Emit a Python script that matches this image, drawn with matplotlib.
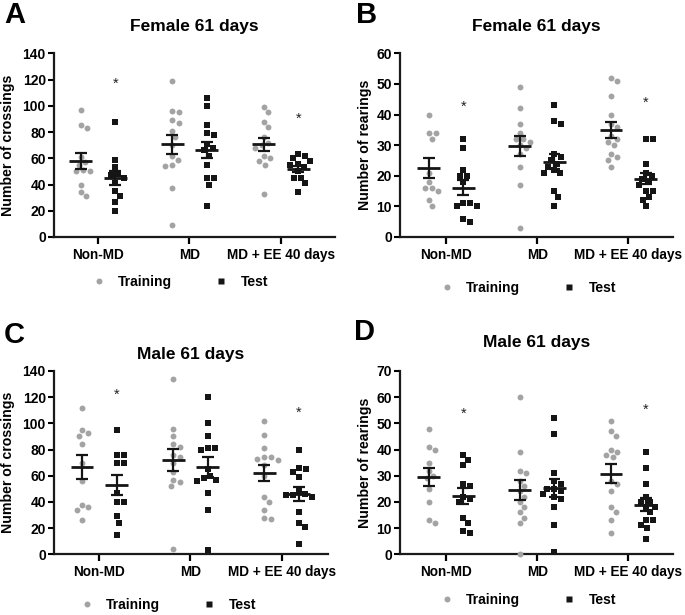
import matplotlib
matplotlib.use('Agg')
import matplotlib.pyplot as plt
from matplotlib.lines import Line2D
import numpy as np

plt.rcParams['font.family'] = ['Liberation Sans', 'DejaVu Sans']
plt.rcParams['font.weight'] = 'bold'
plt.rcParams['axes.labelweight'] = 'bold'

groups = ['Non-MD', 'MD', 'MD + EE 40 days']

# A: female crossings
a_train = [[97, 85, 83, 61, 57, 55, 51, 50, 50, 40, 34, 31],
           [119, 96, 95, 89, 87, 81, 76, 70, 62, 59, 55, 54, 37, 9],
           [99, 95, 88, 84, 76, 72, 70, 68, 62, 60, 58, 55, 33]]
a_test = [[88, 59, 53, 48, 47, 45, 41, 35, 31, 27, 20],
          [106, 100, 85, 79, 78, 71, 68, 66, 62, 55, 45, 45, 40, 24],
          [63, 62, 60, 58, 56, 55, 53, 50, 45, 45, 41, 34]]
a_stars = [117, None, 90]

# B: female rearings
b_train = [[40, 34, 34, 32, 21, 18, 16, 16, 15, 12, 10],
           [49, 42, 37, 34, 32, 32, 31, 30, 29, 27, 23, 17, 3],
           [52, 51, 46, 40, 37, 36, 33, 32, 31, 30, 27, 26, 25, 23]]
b_test = [[32, 29, 22, 20, 20, 18, 11, 11, 10, 10, 6, 5],
          [43, 38, 37, 27, 26, 25, 24, 23, 22, 21, 21, 15, 13, 10],
          [32, 32, 24, 21, 20, 19, 18, 17, 15, 15, 13, 12, 10]]
b_stars = [42.5, None, 44]

# C: male crossings
c_train = [[112, 95, 93, 90, 84, 70, 56, 38, 36, 34, 26],
           [134, 96, 90, 84, 82, 76, 74, 70, 63, 57, 55, 52, 4],
           [102, 91, 81, 74, 74, 73, 72, 68, 60, 44, 40, 34, 28, 27]]
c_test = [[95, 76, 76, 70, 70, 47, 40, 40, 29, 24, 15],
          [120, 100, 90, 81, 81, 80, 65, 60, 58, 57, 56, 47, 34, 3],
          [80, 66, 65, 63, 59, 48, 46, 45, 45, 44, 32, 24, 21, 8]]
c_stars = [122, None, 108]

# D: male rearings
d_train = [[48, 41, 40, 35, 32, 30, 29, 25, 20, 13, 12],
           [60, 39, 32, 31, 28, 26, 24, 22, 20, 18, 16, 14, 12, 0],
           [51, 47, 45, 40, 39, 38, 37, 28, 27, 24, 18, 16, 13, 8]]
d_test = [[38, 36, 34, 27, 26, 22, 21, 20, 14, 12, 9, 8],
          [52, 46, 31, 28, 27, 25, 25, 24, 23, 22, 21, 18, 11, 1],
          [39, 33, 27, 22, 20, 20, 18, 18, 16, 13, 13, 11, 10, 6]]
d_stars = [53.5, None, 55]

W, H = 685, 615
fig = plt.figure(figsize=(W / 100, H / 100), dpi=100)

panels = [
    # axes px box = (left, right, top, bottom)
    dict(letter='A', title='Female 61 days', ylabel='Number of crossings',
         train=a_train, test=a_test, stars=a_stars, ymax=140, ystep=20,
         box=(53.5, 335, 53.3, 237), xlim=(-0.486, 2.59), ty=27, leg=(180, 282),
         ylx=15, lp=(4, 15)),
    dict(letter='B', title='Female 61 days', ylabel='Number of rearings',
         train=b_train, test=b_test, stars=b_stars, ymax=60, ystep=10,
         box=(399.5, 673, 53.3, 237), xlim=(-0.51, 2.49), ty=27, leg=(528, 288),
         ylx=372, lp=(356, 15)),
    dict(letter='C', title='Male 61 days', ylabel='Number of crossings',
         train=c_train, test=c_test, stars=c_stars, ymax=140, ystep=20,
         box=(53.5, 328, 371, 554.3), xlim=(-0.502, 2.508), ty=355, leg=(168, 605),
         ylx=15, lp=(4, 335)),
    dict(letter='D', title='Male 61 days', ylabel='Number of rearings',
         train=d_train, test=d_test, stars=d_stars, ymax=70, ystep=10,
         box=(399.5, 673, 371, 554.3), xlim=(-0.51, 2.49), ty=343, leg=(528, 600),
         ylx=372, lp=(354, 332)),
]

GRAY = '#a3a3a3'
BLACK = '#151515'
OFF = 0.19


def swarm(ax, xc, vals, d=7.0):
    # simple beeswarm in pixel space, returns x positions in data units
    p0 = ax.transData.transform([[0, 0], [1, 0]])
    pxu = p0[1, 0] - p0[0, 0]
    ys = ax.transData.transform(np.column_stack([np.zeros(len(vals)), vals]))[:, 1]
    placed = []
    xs = []
    for y in ys:
        cands = [0.0]
        for px, py in placed:
            dy = y - py
            if abs(dy) < d:
                dx = np.sqrt(d * d - dy * dy)
                cands += [px + dx, px - dx]
        cands.sort(key=abs)
        for c in cands:
            if all((c - px) ** 2 + (y - py) ** 2 >= d * d - 1e-6 for px, py in placed):
                break
        placed.append((c, y))
        xs.append(xc + c / pxu)
    return np.array(xs)


def mean_sem(ax, xc, vals):
    v = np.asarray(vals, float)
    m = v.mean()
    s = v.std(ddof=1) / np.sqrt(len(v))
    ax.hlines(m, xc - 0.125, xc + 0.125, color=BLACK, lw=2.0, zorder=5)
    ax.vlines(xc, m - s, m + s, color=BLACK, lw=1.6, zorder=5)
    ax.hlines([m - s, m + s], xc - 0.065, xc + 0.065, color=BLACK, lw=1.6, zorder=5)


for p in panels:
    l, r, t, b = p['box']
    ax = fig.add_axes([l / W, 1 - b / H, (r - l) / W, (b - t) / H])
    ax.set_xlim(*p['xlim'])
    ax.set_ylim(0, p['ymax'])

    for i in range(3):
        xt = swarm(ax, i - OFF, p['train'][i])
        ax.scatter(xt, p['train'][i], s=18, marker='o', color=GRAY, lw=0,
                   zorder=3, clip_on=False)
        xs = swarm(ax, i + OFF, p['test'][i])
        ax.scatter(xs, p['test'][i], s=20, marker='s', color=BLACK, lw=0,
                   zorder=3, clip_on=False)
        mean_sem(ax, i - OFF, p['train'][i])
        mean_sem(ax, i + OFF, p['test'][i])
        if p['stars'][i] is not None:
            ax.text(i + OFF, p['stars'][i], '*', ha='center', va='center',
                    fontsize=10.5, fontweight='normal', color='#222222')

    for side in ['top', 'right']:
        ax.spines[side].set_visible(False)
    for side in ['left', 'bottom']:
        ax.spines[side].set_linewidth(1.6)
        ax.spines[side].set_color('#1a1a1a')

    ax.set_yticks(np.arange(0, p['ymax'] + 1, p['ystep']))
    ax.set_xticks(range(3))
    ax.set_xticklabels(groups)
    ax.tick_params(axis='y', length=4, width=1.5, pad=1.5, labelsize=10)
    ax.tick_params(axis='x', length=5, width=1.6, pad=3, labelsize=9.8)
    for lab in ax.get_xticklabels() + ax.get_yticklabels():
        lab.set_fontweight('bold')

    ax.set_ylabel(p['ylabel'], fontsize=10.2, fontweight='bold')
    ax.yaxis.set_label_coords((p['ylx'] - l) / (r - l), 0.5)

    ax.text(0.5, (b - p['ty']) / (b - t), p['title'],
            transform=ax.transAxes, ha='center', va='center',
            fontsize=12.5, fontweight='bold')
    fig.text(p['lp'][0] / W, 1 - p['lp'][1] / H, p['letter'], ha='left', va='center',
             fontsize=21, fontweight='bold')

    handles = [Line2D([], [], ls='none', marker='o', ms=4.3, mfc=GRAY, mec='none'),
               Line2D([], [], ls='none', marker='s', ms=4.3, mfc=BLACK, mec='none')]
    lx, ly = p['leg']
    ax.legend(handles, ['Training', 'Test'], ncol=2, frameon=False,
              loc='center', bbox_to_anchor=((lx - l) / (r - l), (b - ly) / (b - t)),
              handlelength=1.0, handletextpad=0.9, columnspacing=3.0,
              prop={'weight': 'bold', 'size': 10})

fig.savefig('out.png', dpi=100)
